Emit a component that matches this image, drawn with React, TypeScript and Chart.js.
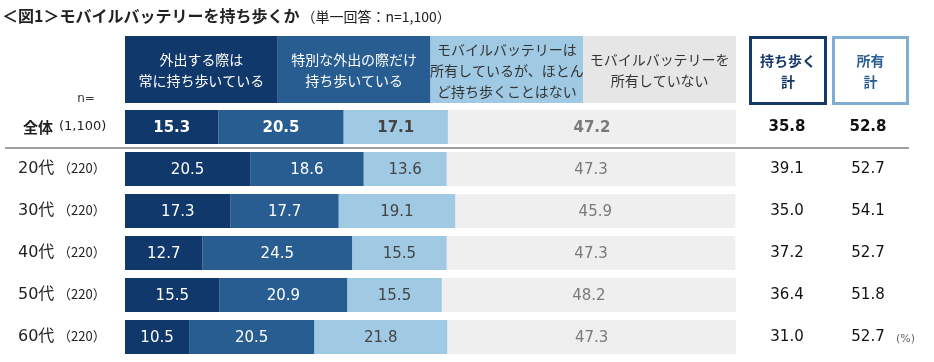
import React, { useEffect, useRef } from "react";
import { Chart, registerables } from "chart.js";

Chart.register(...registerables);

const title = "＜図1＞モバイルバッテリーを持ち歩くか";
const subtitle = "（単一回答：n=1,100）";
const categories = ["全体", "20代", "30代", "40代", "50代", "60代"];
const sampleSizes = ["(1,100)", "（220）", "（220）", "（220）", "（220）", "（220）"];
const seriesNames = [
  ["外出する際は", "常に持ち歩いている"],
  ["特別な外出の際だけ", "持ち歩いている"],
  ["モバイルバッテリーは", "所有しているが、ほとん", "ど持ち歩くことはない"],
  ["モバイルバッテリーを", "所有していない"],
];
const alwaysCarry = [15.3, 20.5, 17.3, 12.7, 15.5, 10.5];
const specialCarry = [20.5, 18.6, 17.7, 24.5, 20.9, 20.5];
const ownNotCarry = [17.1, 13.6, 19.1, 15.5, 15.5, 21.8];
const notOwn = [47.2, 47.3, 45.9, 47.3, 48.2, 47.3];
const carryTotal = [35.8, 39.1, 35.0, 37.2, 36.4, 31.0];
const ownTotal = [52.8, 52.7, 54.1, 52.7, 51.8, 52.7];
const totalHeaders = [["持ち歩く", "計"], ["所有", "計"]];

const barColors = ["#10386a", "#275d91", "#a0c9e3", "#efefef"];
const headerColors = ["#10386a", "#275d91", "#a0c9e3", "#e6e6e6"];
const headerTextColors = ["#ffffff", "#ffffff", "#333333", "#333333"];
const labelColors = ["#ffffff", "#ffffff", "#444444", "#7a7a7a"];

const NUM_FONT = '"DejaVu Sans", "Noto Sans CJK JP", sans-serif';
const JP_FONT = '"Noto Sans CJK JP", "DejaVu Sans", sans-serif';

const overlay = {
  id: "overlay",
  afterDatasetsDraw(chart: any) {
    const ctx = chart.ctx as CanvasRenderingContext2D;
    const area = chart.chartArea;
    const yScale = chart.scales.y;
    ctx.save();

    // Title
    ctx.textBaseline = "middle";
    ctx.textAlign = "left";
    ctx.fillStyle = "#222222";
    ctx.font = `bold 16px ${JP_FONT}`;
    ctx.fillText(title, 2, 16);
    const tw = ctx.measureText(title).width;
    ctx.font = `14px ${JP_FONT}`;
    ctx.fillText(subtitle, 2 + tw + 2, 17);

    // Header boxes
    const colW = (area.right - area.left) / 4;
    const hTop = 36;
    const hBot = 103;
    for (let i = 0; i < 4; i++) {
      const x0 = area.left + colW * i;
      ctx.fillStyle = headerColors[i];
      ctx.fillRect(x0, hTop, colW, hBot - hTop);
      ctx.fillStyle = headerTextColors[i];
      ctx.font = `14px ${JP_FONT}`;
      ctx.textAlign = "center";
      const lines = seriesNames[i];
      const lh = 21;
      const cy = (hTop + hBot) / 2 + 1;
      lines.forEach((ln, k) => {
        ctx.fillText(ln, x0 + colW / 2, cy + (k - (lines.length - 1) / 2) * lh);
      });
    }

    // Total boxes
    const boxes = [
      { x0: 749, x1: 827, stroke: "#16396a", text: "#16396a" },
      { x0: 832, x1: 909, stroke: "#7fadd3", text: "#2b5f96" },
    ];
    boxes.forEach((b, i) => {
      ctx.lineWidth = 3;
      ctx.strokeStyle = b.stroke;
      ctx.strokeRect(b.x0 + 1.5, hTop + 1.5, b.x1 - b.x0 - 3, hBot - hTop - 1);
      ctx.fillStyle = b.text;
      ctx.font = `bold 14px ${JP_FONT}`;
      ctx.textAlign = "center";
      const cx = (b.x0 + b.x1) / 2;
      ctx.fillText(totalHeaders[i][0], cx, 61);
      ctx.fillText(totalHeaders[i][1], cx, 82);
    });

    // n=
    ctx.fillStyle = "#333333";
    ctx.font = `12px ${NUM_FONT}`;
    ctx.textAlign = "center";
    ctx.fillText("n=", 86, 99);

    // Separator
    const sepY = (yScale.getPixelForValue(0) + yScale.getPixelForValue(1)) / 2;
    ctx.strokeStyle = "#a0a0a0";
    ctx.lineWidth = 2;
    ctx.beginPath();
    ctx.moveTo(5, sepY);
    ctx.lineTo(909, sepY);
    ctx.stroke();

    // Row labels and totals
    categories.forEach((cat, j) => {
      const y = yScale.getPixelForValue(j);
      ctx.textAlign = "left";
      ctx.fillStyle = "#222222";
      if (j === 0) {
        ctx.font = `bold 15px ${JP_FONT}`;
        ctx.fillText(cat, 23, y);
        ctx.font = `13px ${NUM_FONT}`;
        ctx.fillText(sampleSizes[j], 59, y);
      } else {
        ctx.font = `16px ${NUM_FONT}`;
        ctx.fillText(cat, 18, y);
        ctx.font = `13px ${JP_FONT}`;
        ctx.fillText(sampleSizes[j], 58, y - 1);
      }
      ctx.textAlign = "center";
      ctx.font = `${j === 0 ? "bold " : ""}15px ${NUM_FONT}`;
      ctx.fillStyle = "#111111";
      ctx.fillText(carryTotal[j].toFixed(1), 787, y);
      ctx.fillText(ownTotal[j].toFixed(1), 868, y);
    });

    // (%)
    ctx.fillStyle = "#666666";
    ctx.font = `11px ${NUM_FONT}`;
    ctx.textAlign = "left";
    ctx.fillText("(%)", 896, yScale.getPixelForValue(5) + 2);

    // Bar labels
    chart.data.datasets.forEach((ds: any, i: number) => {
      const meta = chart.getDatasetMeta(i);
      meta.data.forEach((el: any, j: number) => {
        const cx = (el.x + el.base) / 2;
        ctx.fillStyle = labelColors[i];
        ctx.font = `${j === 0 ? "bold " : ""}15px ${NUM_FONT}`;
        ctx.textAlign = "center";
        ctx.fillText(Number(ds.data[j]).toFixed(1), cx, el.y + 1);
      });
    });

    ctx.restore();
  },
};

export default function App() {
  const ref = useRef<HTMLCanvasElement | null>(null);
  useEffect(() => {
    if (!ref.current) return;
    const seriesData = [alwaysCarry, specialCarry, ownNotCarry, notOwn];
    const chart = new Chart(ref.current, {
      type: "bar",
      data: {
        labels: categories,
        datasets: seriesData.map((d, i) => ({
          label: seriesNames[i].join(""),
          data: d,
          backgroundColor: barColors[i],
          borderWidth: 0,
          barPercentage: 0.81,
          categoryPercentage: 1,
        })),
      },
      options: {
        indexAxis: "y",
        animation: false,
        responsive: true,
        maintainAspectRatio: false,
        layout: { padding: { left: 125, right: 198, top: 106, bottom: 4 } },
        plugins: { legend: { display: false }, tooltip: { enabled: false } },
        scales: {
          x: { stacked: true, min: 0, max: 100.1, display: false },
          y: { stacked: true, display: false },
        },
      },
      plugins: [overlay],
    });
    return () => chart.destroy();
  }, []);
  return (
    <div style={{ position: "fixed", left: 0, top: 0, width: 934, height: 362, background: "#ffffff" }}>
      <canvas ref={ref} />
    </div>
  );
}
